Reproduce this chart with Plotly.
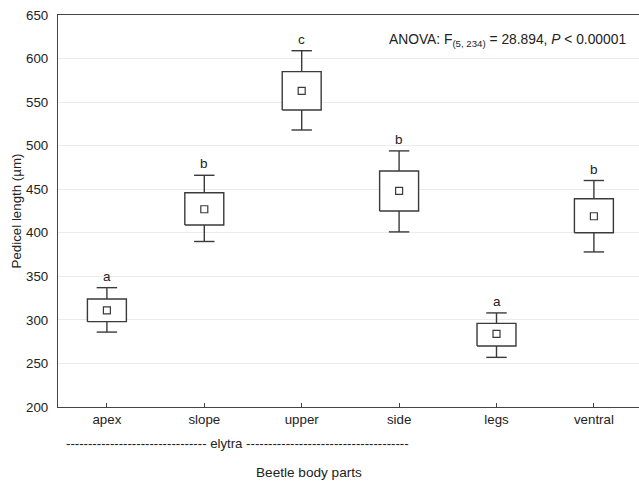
import plotly.graph_objects as go

categories = ["apex", "slope", "upper", "side", "legs", "ventral"]
means = [311, 427, 563, 448, 284, 419]
box_low = [298, 409, 541, 425, 270, 400]
box_high = [324, 446, 585, 471, 296, 439]
whisk_low = [286, 390, 518, 401, 257, 378]
whisk_high = [337, 466, 609, 494, 308, 460]
letters = ["a", "b", "c", "b", "a", "b"]
yticks = [200, 250, 300, 350, 400, 450, 500, 550, 600, 650]

BOX_W = 0.40
CAP_W = 0.21
LC = "#3a3a3a"
FONT = "Liberation Sans, Arial, sans-serif"

xs = list(range(len(categories)))

fig = go.Figure()

# whiskers (vertical stems + caps)
wx, wy = [], []
for i in xs:
    wx += [i, i, None, i, i, None,
           i - CAP_W / 2, i + CAP_W / 2, None, i - CAP_W / 2, i + CAP_W / 2, None]
    wy += [whisk_low[i], box_low[i], None, box_high[i], whisk_high[i], None,
           whisk_low[i], whisk_low[i], None, whisk_high[i], whisk_high[i], None]
fig.add_trace(go.Scatter(x=wx, y=wy, mode="lines",
                         line=dict(color=LC, width=1.4), hoverinfo="skip",
                         showlegend=False))

# boxes
bx, by = [], []
for i in xs:
    bx += [i - BOX_W / 2, i + BOX_W / 2, i + BOX_W / 2, i - BOX_W / 2, i - BOX_W / 2, None]
    by += [box_low[i], box_low[i], box_high[i], box_high[i], box_low[i], None]
fig.add_trace(go.Scatter(x=bx, y=by, mode="lines", fill="toself",
                         fillcolor="white", line=dict(color=LC, width=1.4),
                         hoverinfo="skip", showlegend=False))

# means
fig.add_trace(go.Scatter(x=xs, y=means, mode="markers",
                         marker=dict(symbol="square-open", size=7,
                                     color=LC, line=dict(width=1.2, color=LC)),
                         showlegend=False))

annotations = []
for i in xs:
    annotations.append(dict(x=i, y=whisk_high[i], xref="x", yref="y",
                            text=letters[i], showarrow=False, yanchor="bottom",
                            yshift=2, font=dict(size=13.5, color="#222", family=FONT)))

annotations.append(dict(
    x=0.981, y=0.936, xref="paper", yref="paper", xanchor="right", yanchor="middle",
    text="ANOVA: F<sub>(5, 234)</sub> = 28.894, <i>P</i> &lt; 0.00001",
    showarrow=False, font=dict(size=13.8, color="#222", family=FONT)))

annotations.append(dict(
    x=0.3095, y=-0.092, xref="paper", yref="paper", xanchor="center", yanchor="middle",
    text="-" * 32 + " elytra " + "-" * 37,
    showarrow=False, font=dict(size=13.2, color="#222", family=FONT)))

annotations.append(dict(
    x=0.4326, y=-0.168, xref="paper", yref="paper", xanchor="center", yanchor="middle",
    text="Beetle body parts",
    showarrow=False, font=dict(size=13.6, color="#222", family=FONT)))

fig.update_layout(
    width=639, height=484,
    margin=dict(l=58, r=0, t=15, b=77),
    plot_bgcolor="white", paper_bgcolor="white",
    font=dict(family=FONT, size=13, color="#222"),
    annotations=annotations,
    xaxis=dict(
        range=[-0.502, 5.463], tickmode="array", tickvals=xs, ticktext=categories,
        showgrid=False, zeroline=False, showline=True, linecolor="#444",
        linewidth=1.2, mirror=True, ticks="inside", ticklen=4, tickcolor="#444",
        tickfont=dict(size=13.3, color="#222"),
    ),
    yaxis=dict(
        range=[200, 650], tickmode="array", tickvals=yticks,
        showgrid=True, gridcolor="#ebebeb", gridwidth=1, zeroline=False,
        showline=True, linecolor="#444", linewidth=1.2, ticks="",
        ticklabelstandoff=6,
        tickfont=dict(size=13.3, color="#222"),
        title=dict(text="Pedicel length (µm)", font=dict(size=13.3, color="#222"), standoff=1),
    ),
)

fig.write_html("out.html")
